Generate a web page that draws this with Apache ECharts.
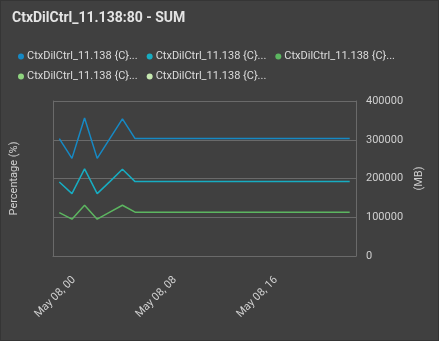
<!DOCTYPE html>
<html>
<head>
<meta charset="utf-8">
<script src="https://cdn.jsdelivr.net/npm/echarts@6/dist/echarts.min.js"></script>
<style>
html,body{margin:0;padding:0;background:#404040;}
#c{width:439px;height:341px;box-sizing:border-box;border:1px solid #353535;}
</style>
</head>
<body>
<div id="c"></div>
<script>
var titleText = "CtxDilCtrl_11.138:80 - SUM";
var seriesNames = [
  "CtxDilCtrl_11.138 {C}:Memory Used",
  "CtxDilCtrl_11.138 {C}:Memory Free",
  "CtxDilCtrl_11.138 {C}:Memory Cached",
  "CtxDilCtrl_11.138 {C}:CPU Usage",
  "CtxDilCtrl_11.138 {C}:CPU Idle"
];
var seriesColors = ["#1689c4", "#17adc2", "#5cb660", "#8fd47f", "#c6e8b0"];
var times = [
  "2024-05-07T22:30:00","2024-05-07T23:30:00","2024-05-08T00:30:00","2024-05-08T01:30:00",
  "2024-05-08T02:30:00","2024-05-08T03:30:00","2024-05-08T04:30:00","2024-05-08T05:30:00",
  "2024-05-08T06:30:00","2024-05-08T07:30:00","2024-05-08T08:30:00","2024-05-08T09:30:00",
  "2024-05-08T10:30:00","2024-05-08T11:30:00","2024-05-08T12:30:00","2024-05-08T13:30:00",
  "2024-05-08T14:30:00","2024-05-08T15:30:00","2024-05-08T16:30:00","2024-05-08T17:30:00",
  "2024-05-08T18:30:00","2024-05-08T19:30:00","2024-05-08T20:30:00","2024-05-08T21:30:00"
];
var memUsed = [303000,252000,356000,252000,303000,354000,303000,303000,303000,303000,303000,303000,
               303000,303000,303000,303000,303000,303000,303000,303000,303000,303000,303000,303000];
var memFree = [191000,161000,225000,161000,192000,224000,192000,192000,192000,192000,192000,192000,
               192000,192000,192000,192000,192000,192000,192000,192000,192000,192000,192000,192000];
var memCached = [112000,95000,131000,95000,113000,131000,113000,113000,113000,113000,113000,113000,
                 113000,113000,113000,113000,113000,113000,113000,113000,113000,113000,113000,113000];
var cpuUsage = [];
var cpuIdle = [];
var xMin = "2024-05-07T22:00:00";
var xMax = "2024-05-08T22:00:00";
var xTickTimes = ["2024-05-08T00:00:00","2024-05-08T08:00:00","2024-05-08T16:00:00"];
var mbTicks = {min: 0, max: 400000, interval: 100000};

function ts(s){ return new Date(s).getTime(); }
function pair(vals){ return vals.map(function(v, i){ return [ts(times[i]), v]; }); }
function pad(n){ return (n < 10 ? "0" : "") + n; }
var months = ["Jan","Feb","Mar","Apr","May","Jun","Jul","Aug","Sep","Oct","Nov","Dec"];

var allData = [memUsed, memFree, memCached, cpuUsage, cpuIdle];
var axisFor = [1, 1, 1, 0, 0];

var chart = echarts.init(document.getElementById('c'));
chart.setOption({
  backgroundColor: '#404040',
  animation: false,
  title: {
    text: titleText, left: 6, top: 5,
    textStyle: {color: '#e4e4e4', fontSize: 14, fontWeight: 'bold', fontFamily: 'Roboto'}
  },
  legend: {
    left: 12, top: 45, width: 420,
    icon: 'circle', itemWidth: 6, itemHeight: 6, itemGap: 9,
    formatter: function(n){ return n.slice(0, 21) + '...'; },
    textStyle: {color: '#dcdcdc', fontSize: 11, fontFamily: 'Roboto', width: 106, lineHeight: 8, padding: [0, 0, 0, -2]}
  },
  grid: {left: 49, right: 82, top: 100, bottom: 84, containLabel: false},
  xAxis: {
    type: 'value',
    min: ts(xMin), max: ts(xMax),
    axisLine: {show: true, lineStyle: {color: '#6a6a6a'}},
    axisTick: {show: false},
    splitLine: {show: false},
    axisLabel: {
      customValues: xTickTimes.map(ts),
      rotate: 45, margin: 18, padding: [0, 6, 0, 0],
      color: '#cfcfcf', fontSize: 11, fontFamily: 'Roboto',
      formatter: function(v){
        var d = new Date(v);
        return months[d.getMonth()] + ' ' + pad(d.getDate()) + ', ' + pad(d.getHours());
      }
    }
  },
  yAxis: [
    {
      type: 'value', position: 'left', min: 0, max: 100,
      name: 'Percentage (%)', nameLocation: 'middle', nameGap: 33,
      nameTextStyle: {color: '#cfcfcf', fontSize: 11, fontFamily: 'Roboto'},
      axisLine: {show: true, lineStyle: {color: '#6a6a6a'}},
      axisTick: {show: false}, axisLabel: {show: false}, splitLine: {show: false}
    },
    {
      type: 'value', position: 'right',
      min: mbTicks.min, max: mbTicks.max, interval: mbTicks.interval,
      name: '(MB)', nameLocation: 'middle', nameGap: 54,
      nameTextStyle: {color: '#cfcfcf', fontSize: 11, fontFamily: 'Roboto'},
      axisLine: {show: true, lineStyle: {color: '#6a6a6a'}},
      axisTick: {show: false},
      axisLabel: {color: '#cfcfcf', fontSize: 11, fontFamily: 'Roboto', margin: 10,
                  formatter: function(v){ return String(v); }},
      splitLine: {show: true, lineStyle: {color: '#6a6a6a'}}
    }
  ],
  series: seriesNames.map(function(n, i){
    return {
      name: n, type: 'line', yAxisIndex: axisFor[i],
      data: pair(allData[i]), showSymbol: false, symbol: 'none',
      lineStyle: {width: 1.5, color: seriesColors[i]},
      itemStyle: {color: seriesColors[i]}
    };
  })
});
</script>
</body>
</html>
